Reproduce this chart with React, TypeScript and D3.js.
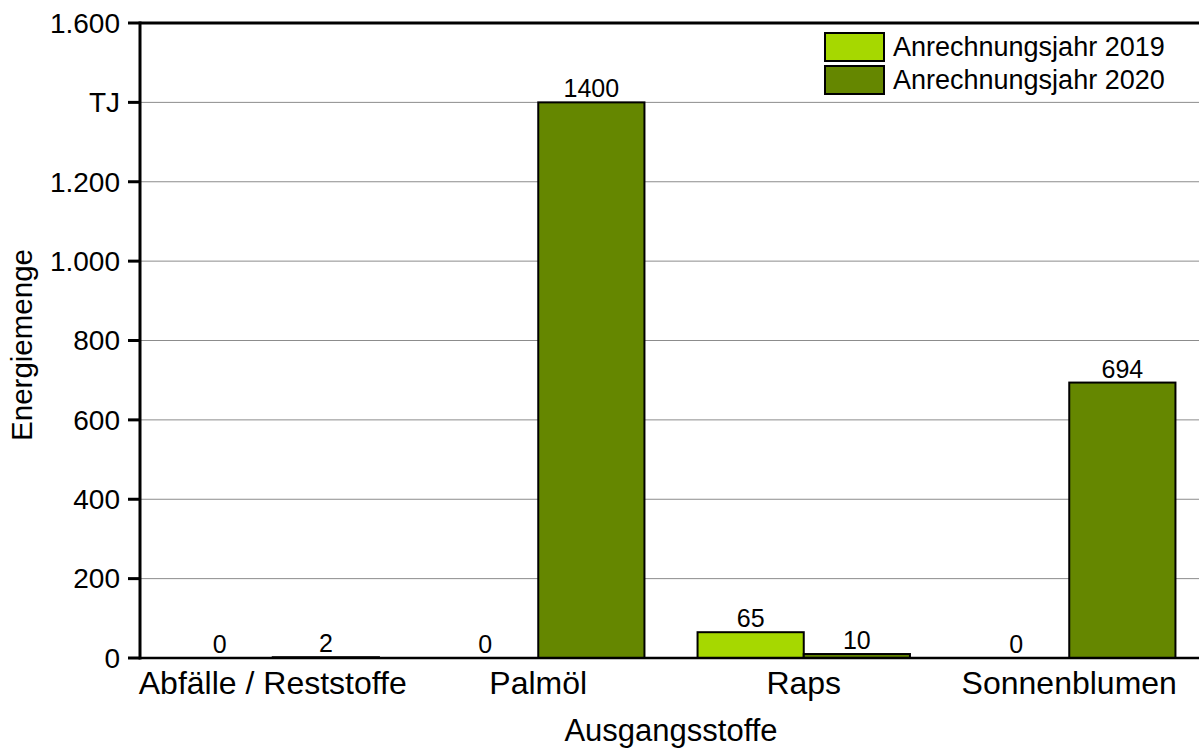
import * as d3 from 'd3';

const categories = ['Abfälle / Reststoffe', 'Palmöl', 'Raps', 'Sonnenblumen'];
const seriesNames = ['Anrechnungsjahr 2019', 'Anrechnungsjahr 2020'];
const values2019 = [0, 0, 65, 0];
const values2020 = [2, 1400, 10, 694];
const yTicks = [0, 200, 400, 600, 800, 1000, 1200, 1400, 1600];
const yTickLabels = ['0', '200', '400', '600', '800', '1.000', '1.200', 'TJ', '1.600'];
const colors = ['#a6d800', '#658700'];

const W = 1199;
const H = 749;
const left = 140;
const right = 1202;
const top = 23;
const bottom = 658;

export default function App() {
    const x = d3.scaleBand<string>().domain(categories).range([left, right]).paddingInner(0).paddingOuter(0);
    const inner = d3.scaleBand<string>().domain(seriesNames).range([0, x.bandwidth()]).paddingOuter(0.25).paddingInner(0);
    const y = d3.scaleLinear().domain([0, 1600]).range([bottom, top]);
    const series = [values2019, values2020];
    const font = '"Liberation Sans", Arial, sans-serif';

    return (
        <svg width={W} height={H} style={{ position: 'absolute', left: 0, top: 0, background: '#fff' }} fontFamily={font}>
            {/* grid */}
            {yTicks.map((t, i) => (
                <line key={'g' + i} x1={left} x2={W} y1={y(t)} y2={y(t)}
                    stroke={t === 1600 ? '#000' : '#8c8c8c'} strokeWidth={t === 1600 ? 3 : 1} />
            ))}
            {/* bars */}
            {categories.map((c, ci) => series.map((vals, si) => {
                const v = vals[ci];
                const bx = (x(c) ?? 0) + (inner(seriesNames[si]) ?? 0);
                const bw = inner.bandwidth();
                return (
                    <g key={c + si}>
                        {v > 0 && (
                            <rect x={bx} y={y(v)} width={bw} height={y(0) - y(v)}
                                fill={colors[si]} stroke="#000" strokeWidth={2} />
                        )}
                        <text x={bx + bw / 2} y={y(v) - 5} textAnchor="middle" fontSize={25} fill="#000">{v}</text>
                    </g>
                );
            }))}
            {/* axes */}
            <line x1={left} x2={left} y1={top - 1.5} y2={bottom + 1.5} stroke="#000" strokeWidth={3} />
            <line x1={left} x2={W} y1={bottom} y2={bottom} stroke="#000" strokeWidth={2.5} />
            {yTicks.map((t, i) => (
                <g key={'t' + i}>
                    <line x1={left - 12} x2={left} y1={y(t)} y2={y(t)} stroke="#000" strokeWidth={3} />
                    <text x={left - 20} y={y(t)} dy="0.35em" textAnchor="end" fontSize={28} fill="#000">{yTickLabels[i]}</text>
                </g>
            ))}
            {/* x labels */}
            {categories.map(c => (
                <text key={'x' + c} x={(x(c) ?? 0) + x.bandwidth() / 2} y={694} textAnchor="middle" fontSize={32} fill="#000">{c}</text>
            ))}
            <text x={(left + right) / 2} y={741} textAnchor="middle" fontSize={31} fill="#000">Ausgangsstoffe</text>
            <text transform="translate(32,345) rotate(-90)" textAnchor="middle" fontSize={29.5} fill="#000">Energiemenge</text>
            {/* legend */}
            {seriesNames.map((s, i) => (
                <g key={'l' + s} transform={`translate(825,${33 + i * 33})`}>
                    <rect x={0} y={0} width={59} height={28} fill={colors[i]} stroke="#000" strokeWidth={2} />
                    <text x={68} y={14} dy="0.35em" fontSize={27} fill="#000">{s}</text>
                </g>
            ))}
        </svg>
    );
}
